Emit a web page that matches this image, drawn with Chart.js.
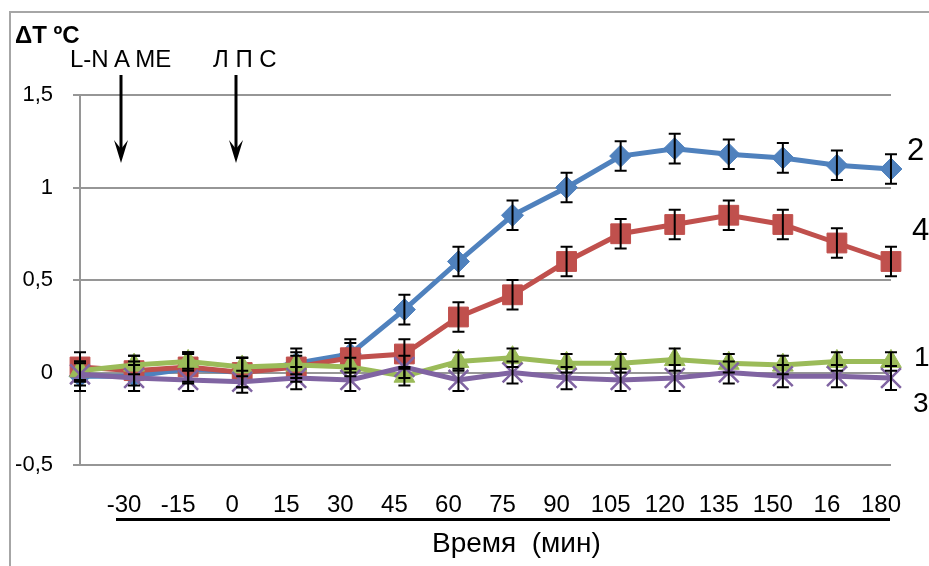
<!DOCTYPE html>
<html>
<head>
<meta charset="utf-8">
<script src="https://cdn.jsdelivr.net/npm/chart.js@4/dist/chart.umd.min.js"></script>
<style>
  body { margin: 0; background: #fff; font-family: "Liberation Sans", Arial, sans-serif; }
  #wrap { position: relative; width: 929px; height: 566px; overflow: hidden; }
  #frame { position: absolute; left: 9px; top: 11px; width: 1000px; height: 1000px;
           border-left: 2px solid #a6a6a6; border-top: 2px solid #a6a6a6; }
  .txt { position: absolute; line-height: 1; color: #000; white-space: pre; }
  #underline { position: absolute; left: 116px; top: 518px; width: 774px; height: 3px; background: #000; }
  canvas, svg { position: absolute; left: 0; top: 0; }
</style>
</head>
<body>
<div id="wrap">
  <div id="frame"></div>
  <canvas id="chart" width="929" height="566"></canvas>
  <svg width="929" height="566">
    <line x1="121" y1="75" x2="121" y2="152" stroke="#000" stroke-width="3"/>
    <polygon points="121,163 114,140 121,149 128,140" fill="#000"/>
    <line x1="236" y1="75" x2="236" y2="152" stroke="#000" stroke-width="3"/>
    <polygon points="236,163 229,140 236,149 243,140" fill="#000"/>
  </svg>
  <div class="txt" style="left:15px; top:23px; font-size:24px; font-weight:bold;">ΔT ºC</div>
  <div class="txt" style="left:70px; top:47px; font-size:24px;">L-N A ME</div>
  <div class="txt" style="left:213px; top:47px; font-size:24px;">Л П С</div>
  <div class="txt" style="left:907px; top:134px; font-size:31px;">2</div>
  <div class="txt" style="left:912px; top:214px; font-size:31px;">4</div>
  <div class="txt" style="left:914px; top:343px; font-size:28px;">1</div>
  <div class="txt" style="left:913px; top:389px; font-size:28px;">3</div>
  <div id="underline"></div>
  <div class="txt" style="left:432px; top:529px; font-size:28px;">Время  (мин)</div>
</div>
<script>
// time points (first point has no label in the original)
const categories = ['', '-30', '-15', '0', '15', '30', '45', '60', '75', '90', '105', '120', '135', '150', '16', '180'];

// series, named by the labels at the right edge
const series1 = [0.01, 0.04, 0.06, 0.03, 0.04, 0.03, -0.02, 0.06, 0.08, 0.05, 0.05, 0.07, 0.05, 0.04, 0.06, 0.06];
const series2 = [-0.02, -0.02, 0.02, 0.0, 0.05, 0.1, 0.34, 0.6, 0.85, 1.0, 1.17, 1.21, 1.18, 1.16, 1.12, 1.1];
const series3 = [-0.01, -0.03, -0.04, -0.05, -0.03, -0.04, 0.03, -0.04, 0.0, -0.03, -0.04, -0.03, 0.0, -0.02, -0.02, -0.03];
const series4 = [0.03, 0.01, 0.03, 0.0, 0.03, 0.08, 0.1, 0.3, 0.42, 0.6, 0.75, 0.8, 0.85, 0.8, 0.7, 0.6];

// error bar half-widths
const err1 = [0.05, 0.05, 0.05, 0.05, 0.05, 0.05, 0.05, 0.05, 0.05, 0.05, 0.05, 0.06, 0.05, 0.05, 0.05, 0.05];
const err2 = [0.08, 0.08, 0.08, 0.08, 0.08, 0.08, 0.08, 0.08, 0.08, 0.08, 0.08, 0.08, 0.08, 0.08, 0.08, 0.08];
const err3 = [0.06, 0.07, 0.06, 0.06, 0.06, 0.06, 0.06, 0.06, 0.06, 0.06, 0.06, 0.07, 0.06, 0.06, 0.06, 0.065];
const err4 = [0.08, 0.08, 0.08, 0.08, 0.08, 0.08, 0.08, 0.08, 0.08, 0.08, 0.08, 0.08, 0.08, 0.08, 0.08, 0.08];

const yTicks = [-0.5, 0, 0.5, 1, 1.5];

Chart.defaults.font.family = '"Liberation Sans", Arial, sans-serif';
Chart.defaults.color = '#000';

function makeSet(data, err, color, style, radius, order) {
    return {
        data: data,
        errors: err,
        borderColor: color,
        backgroundColor: color,
        borderWidth: 5,
        pointStyle: style,
        pointRadius: radius,
        pointBorderWidth: style === 'crossRot' ? 2.5 : 1,
        pointBackgroundColor: color,
        pointBorderColor: color,
        tension: 0,
        order: order
    };
}

const errorBars = {
    id: 'errorBars',
    afterDatasetsDraw(chart) {
        const ctx = chart.ctx;
        const yScale = chart.scales.y;
        ctx.save();
        ctx.strokeStyle = '#000';
        ctx.lineWidth = 2;
        chart.data.datasets.forEach((ds, di) => {
            const meta = chart.getDatasetMeta(di);
            meta.data.forEach((pt, i) => {
                const top = yScale.getPixelForValue(ds.data[i] + ds.errors[i]);
                const bot = yScale.getPixelForValue(ds.data[i] - ds.errors[i]);
                ctx.beginPath();
                ctx.moveTo(pt.x, top); ctx.lineTo(pt.x, bot);
                ctx.moveTo(pt.x - 6, top); ctx.lineTo(pt.x + 6, top);
                ctx.moveTo(pt.x - 6, bot); ctx.lineTo(pt.x + 6, bot);
                ctx.stroke();
            });
        });
        ctx.restore();
    }
};

const ctx = document.getElementById('chart').getContext('2d');
new Chart(ctx, {
    type: 'line',
    data: {
        labels: categories,
        datasets: [
            makeSet(series2, err2, '#4F81BD', 'rectRot', 11, 4),
            makeSet(series4, err4, '#C0504D', 'rect', 14, 3),
            makeSet(series1, err1, '#9BBB59', 'triangle', 12, 2),
            makeSet(series3, err3, '#8064A2', 'crossRot', 14, 1)
        ]
    },
    options: {
        responsive: false,
        animation: false,
        layout: { padding: { left: 0, right: 38, top: 95, bottom: 0 } },
        plugins: { legend: { display: false }, tooltip: { enabled: false } },
        scales: {
            x: {
                offset: false,
                grid: { display: false },
                border: { display: false },
                ticks: {
                    autoSkip: false,
                    maxRotation: 0,
                    minRotation: 0,
                    labelOffset: -10,
                    padding: 18,
                    font: { size: 24 }
                },
                afterFit: s => { s.height = 101; }
            },
            y: {
                min: -0.5,
                max: 1.5,
                afterBuildTicks: s => { s.ticks = yTicks.map(v => ({ value: v })); },
                grid: { color: '#969696', lineWidth: 2, tickLength: 7, tickColor: '#969696' },
                border: { display: true, color: '#969696', width: 2 },
                ticks: {
                    padding: 20,
                    font: { size: 22 },
                    callback: v => String(v).replace('.', ',')
                },
                afterFit: s => { s.width = 80; }
            }
        }
    },
    plugins: [errorBars]
});
</script>
</body>
</html>
